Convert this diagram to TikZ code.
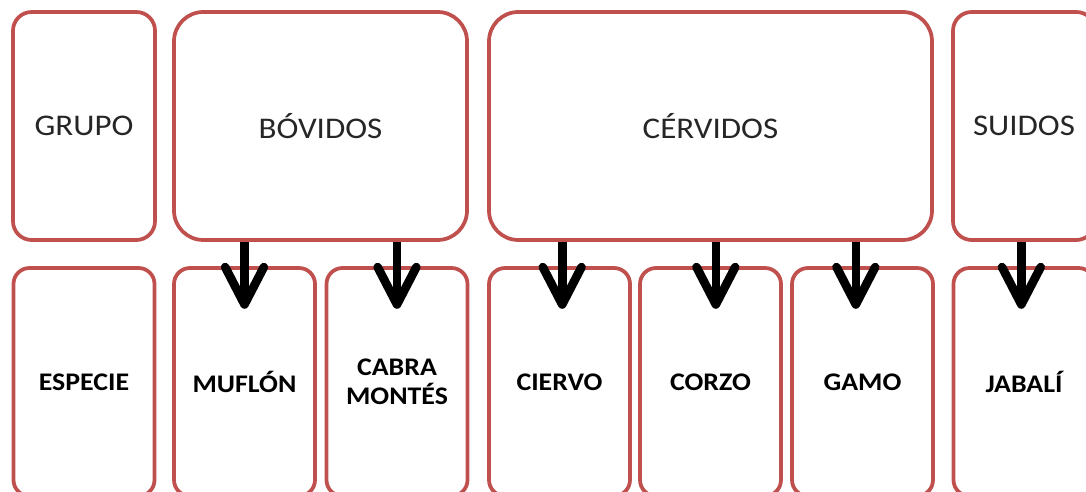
\documentclass[tikz,border=0pt]{standalone}
\usepackage{fontspec}
\setmainfont{Carlito}[FakeStretch=1.1]
\usetikzlibrary{arrows.meta}
\definecolor{cajaroja}{HTML}{C0504D}
\definecolor{textogris}{HTML}{262626}

\begin{document}
\begin{tikzpicture}[x=0.75pt, y=0.75pt,
  caja/.style={draw=cajaroja, line width=2.8pt, fill=white, inner sep=0pt, align=center},
  grupo/.style={caja, minimum width=106.5pt, minimum height=171pt, rounded corners=14pt,
    text=textogris, font=\fontsize{22.5}{27}\selectfont},
  familia/.style={grupo, rounded corners=22pt},
  especie/.style={caja, minimum width=105.75pt, minimum height=171pt, rounded corners=12pt,
    font=\fontsize{19}{22}\selectfont\bfseries},
  flecha/.style={line width=6.5pt, -{Straight Barb[length=28pt,width=29pt,line join=round,line cap=round]}}]
  \useasboundingbox (0,0) rectangle (1086,492);
  \clip (0,0) rectangle (1086,492);
  \fill[white] (0,0) rectangle (1086,492);
  % fila de grupos
  \node[grupo] (grupo) at (84,366) {GRUPO};
  \node[familia, minimum width=219.75pt] (bov) at (320.5,366) {BÓVIDOS};
  \node[familia, minimum width=332.25pt] (cer) at (710.5,366) {CÉRVIDOS};
  \node[grupo] (sui) at (1024,366) {SUIDOS};
  % fila de especies
  \node[especie] (esp) at (84,110) {ESPECIE};
  \node[especie] (muf) at (244.5,110) {MUFLÓN};
  \node[especie] (cab) at (397,110) {CABRA\\MONTÉS};
  \node[especie] (cie) at (559.5,110) {CIERVO};
  \node[especie] (cor) at (710.5,110) {CORZO};
  \node[especie] (gam) at (862.5,110) {GAMO};
  \node[especie] (jab) at (1024,110) {JABALÍ};
  % flechas
  \draw[flecha] (bov.south -| muf) -- ([yshift=-32pt]muf.north);
  \draw[flecha] (bov.south -| cab) -- ([yshift=-32pt]cab.north);
  \draw[flecha] ([xshift=2pt]cer.south -| cie) -- ([xshift=2pt,yshift=-32pt]cie.north);
  \draw[flecha] ([xshift=4pt]cer.south -| cor) -- ([xshift=4pt,yshift=-32pt]cor.north);
  \draw[flecha] ([xshift=-5pt]cer.south -| gam) -- ([xshift=-5pt,yshift=-32pt]gam.north);
  \draw[flecha] ([xshift=-2pt]sui.south -| jab) -- ([xshift=-2pt,yshift=-32pt]jab.north);
\end{tikzpicture}
\end{document}
